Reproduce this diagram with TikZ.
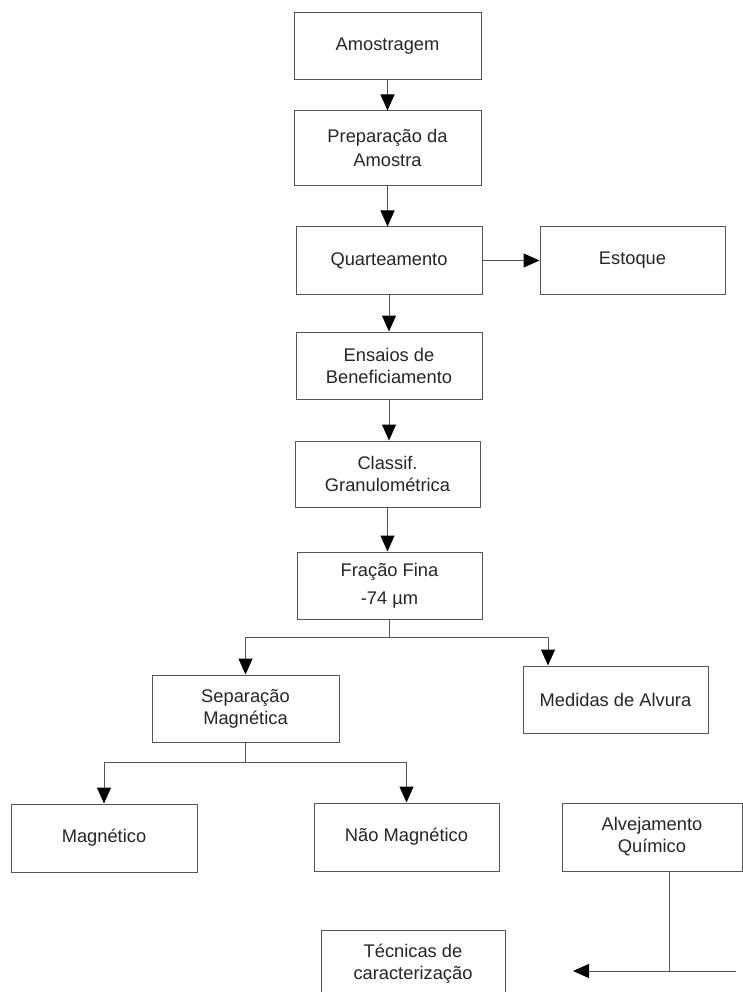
\documentclass[tikz,border=0pt]{standalone}
\usepackage{fontspec}
\setmainfont{Liberation Sans}
\usetikzlibrary{arrows.meta}
\definecolor{edge}{HTML}{555555}
\definecolor{txt}{HTML}{262626}
\tikzset{
  box/.style={draw=edge, line width=1pt, inner sep=0pt, align=center,
    text=txt, font=\fontsize{18.3}{22}\selectfont},
  conn/.style={draw=edge, line width=1pt},
  arr/.style={conn, -{Triangle[width=14pt,length=16pt,color=black,fill=black]}}
}
\begin{document}
\begin{tikzpicture}[x=1pt,y=-1pt]
\useasboundingbox (0,0) rectangle (743,992);
\clip (0,0) rectangle (743,992);
\fill[white] (0,0) rectangle (743,992);

\node[box, minimum width=187pt, minimum height=67pt] (amo) at (387.5,46.5) {Amostragem};
\node[box, minimum width=187pt, minimum height=75pt] (prep) at (387.5,148.5) {\mbox{}\\[-10pt]Preparação da\\[2pt]Amostra};
\node[box, minimum width=186pt, minimum height=67pt] (quart) at (389,260.5) {Quarteamento};
\node[box, minimum width=185pt, minimum height=67pt] (est) at (632.5,260.5) {Estoque};
\node[box, minimum width=186pt, minimum height=67pt] (ens) at (389,365.5) {Ensaios de\\Beneficiamento};
\node[box, minimum width=185pt, minimum height=66pt] (cls) at (387.5,474) {Classif.\\Granulométrica};
\node[box, minimum width=185pt, minimum height=67pt] (fra) at (389.5,585.5) {Fração Fina\\[6pt]-74 µm};
\node[box, minimum width=187pt, minimum height=67pt] (sep) at (245.5,708.5) {Separação\\Magnética};
\node[box, minimum width=185pt, minimum height=67pt] (med) at (615.5,699.5) {Medidas de Alvura};
\node[box, minimum width=186pt, minimum height=68pt] (mag) at (104,838) {Magnético};
\node[box, minimum width=185pt, minimum height=68pt] (nao) at (406.5,837) {Não Magnético};
\node[box, minimum width=180pt, minimum height=68pt] (alv) at (652,837) {Alvejamento\\Químico};
\node[box, minimum width=184pt, minimum height=76pt] (tec) at (413,968) {Técnicas de\\caracterização\\[-10pt]\mbox{}};

\draw[arr] (amo.south) -- (prep.north);
\draw[arr] (prep.south) -- (prep.south |- quart.north);
\draw[arr] (quart.east) -- (est.west);
\draw[arr] (quart.south) -- (quart.south |- ens.north);
\draw[arr] (ens.south) -- (ens.south |- cls.north);
\draw[arr] (cls.south) -- (cls.south |- fra.north);

\draw[conn] (fra.south) -- ++(0,18) coordinate (fb);
\draw[arr] (fb) -| (sep.north);
\draw[arr] (fb) -| ([xshift=-67.5pt]med.north);

\draw[conn] (sep.south) -- ++(0,20) coordinate (sb);
\draw[arr] (sb) -| (mag.north);
\draw[arr] (sb) -| (nao.north);

\coordinate (ae) at (736,971);
\coordinate (at) at (573,971);
\draw[conn] ([xshift=17pt]alv.south) -- ([xshift=17pt]alv.south |- ae);
\draw[arr] (ae) -- (at);
\end{tikzpicture}
\end{document}
